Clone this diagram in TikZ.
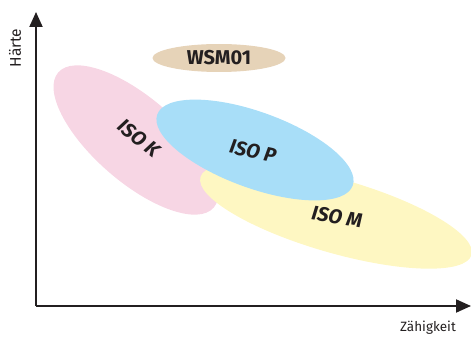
\documentclass[tikz,border=0pt]{standalone}
\usepackage{fontspec}
\setmainfont{Fira Sans}
\usepackage{tikz}
\usetikzlibrary{shapes.geometric, arrows.meta, positioning, calc}

\definecolor{wsmTan}{HTML}{E6D3B8}
\definecolor{isoPink}{HTML}{F7D6E4}
\definecolor{isoBlue}{HTML}{A8DEF8}
\definecolor{isoYellow}{HTML}{FEF7C2}
\definecolor{axisInk}{HTML}{231F20}

\begin{document}
\begin{tikzpicture}[x=1pt, y=1pt, >={Triangle[length=15pt, width=13pt]}]
        \tikzstyle{gradeLabel} = [font=\fontsize{20}{20}\selectfont\bfseries, text=axisInk, inner sep=1pt]
        \tikzstyle{isoLabel} = [gradeLabel, font=\fontsize{20}{20}\selectfont\bfseries\itshape]
        \tikzstyle{axisLabel} = [font=\fontsize{13.5}{13.5}\selectfont, text=axisInk, inner sep=1pt]

        \useasboundingbox (0,0) rectangle (471,338);

        % fields
        \fill[isoPink, rotate around={-41:(136,198)}] (136,198) ellipse (103pt and 42pt);
        \fill[isoYellow, rotate around={-16:(336,122)}] (336,122) ellipse (141pt and 37pt);
        \fill[isoBlue, rotate around={-20:(255,188)}] (255,188) ellipse (104pt and 38pt);
        \fill[wsmTan] (219,280) ellipse (66.5pt and 14pt);

        \node[isoLabel, rotate=-39] (isoKText) at (139,200) {ISO K};
        \node[isoLabel, rotate=-12] (isoPText) at (253,187) {ISO P};
        \node[isoLabel, rotate=-9] (isoMText) at (337,121) {ISO M};
        \node[gradeLabel] (wsmText) at (219,280) {WSM01};

        % axes
        \coordinate (origin) at (36,32);
        \coordinate (yTip) at (36,326);
        \coordinate (xTip) at (471,32);
        \draw[->, line width=2pt, draw=axisInk] (origin) -- (yTip);
        \draw[->, line width=2pt, draw=axisInk] (origin) -- (xTip);

        \node[axisLabel, font=\fontsize{15.5}{15.5}\selectfont, rotate=90] (hardness) at (15,290) {Härte};
        \node[axisLabel] (toughness) at (428,10) {Zähigkeit};
    \end{tikzpicture}
\end{document}
